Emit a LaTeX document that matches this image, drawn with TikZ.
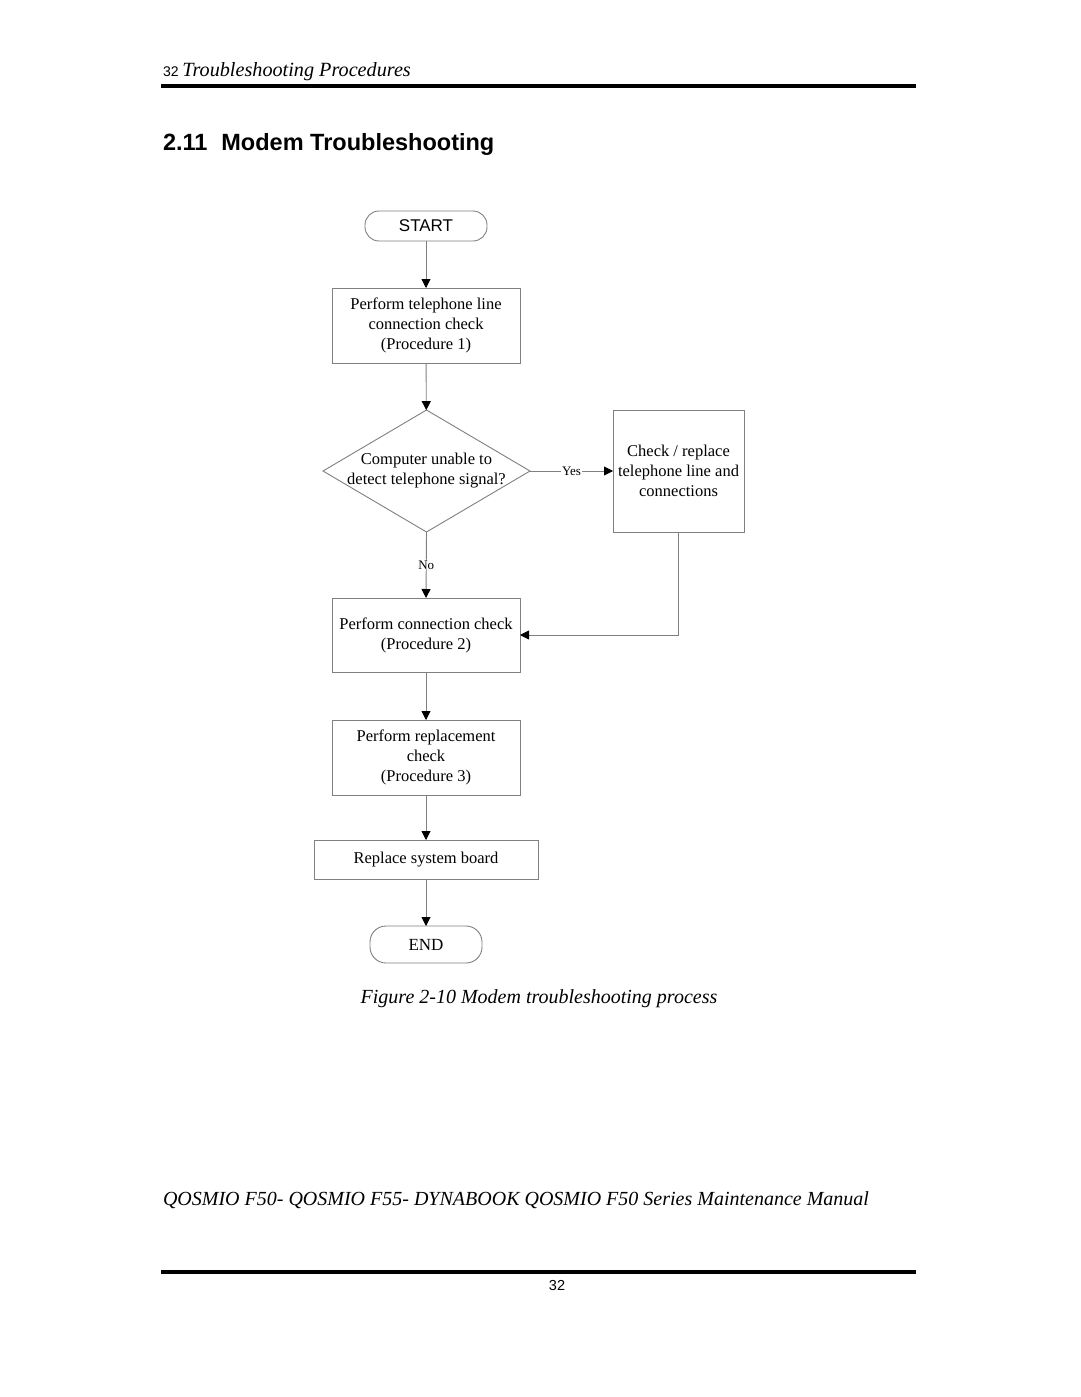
\documentclass[tikz,border=0pt]{standalone}
\usepackage{fontspec}
\setmainfont{Liberation Serif}
\setsansfont{Liberation Sans}
\usetikzlibrary{arrows.meta,shapes.geometric,positioning}
\definecolor{linegray}{RGB}{128,128,128}
\tikzset{
  every node/.style={inner sep=0pt, outer sep=0pt},
  flowtext/.style={font=\fontsize{16.5}{20}\selectfont, align=center},
  procbox/.style={flowtext, draw=linegray, line width=0.9pt, rectangle},
  termbox/.style={draw=linegray, line width=0.9pt, rectangle, rounded corners=14pt},
  flow/.style={draw=linegray, line width=0.9pt, -{Triangle[color=black,length=9pt,width=9pt]}},
  smalllabel/.style={font=\fontsize{13}{15}\selectfont, fill=white, inner xsep=1pt},
  rulebar/.style={line width=4pt, black}
}
\begin{document}
\begin{tikzpicture}[x=1pt,y=-1pt]
\useasboundingbox (0,0) rectangle (1080,1397);
\fill[white] (0,0) rectangle (1080,1397);

% header
\node[anchor=base west] (hdr) at (163,77) {\sffamily\fontsize{14}{16}\selectfont 32 \rmfamily\itshape\fontsize{20.2}{23}\selectfont Troubleshooting Procedures};
\draw[rulebar] (161,86) -- (916,86);

% title
\node[anchor=base west] (title) at (163,150) {\sffamily\bfseries\fontsize{23.5}{26}\selectfont 2.11\hspace{14pt}Modem Troubleshooting};

% flowchart
\node[termbox, minimum width=122pt, minimum height=30pt] (start) at (426,226) {};
\node[font=\sffamily\fontsize{17}{20}\selectfont] (starttxt) at (426,226) {START};

\node[procbox, minimum width=188pt, minimum height=75pt] (p1) at (426,325.5) {Perform telephone line\\connection check\\(Procedure 1)};

\node[draw=linegray, line width=0.9pt, diamond, minimum width=207pt, minimum height=122pt, inner sep=0pt, aspect=1.7] (dec) at (426.5,471) {};
\node[flowtext] (dectxt) at (426.5,471) {Computer unable to\\detect telephone signal?};

\node[procbox, minimum width=131pt, minimum height=122pt] (chk) at (678.5,471) {Check / replace\\telephone line and\\connections};

\node[procbox, minimum width=188pt, minimum height=74pt] (p2) at (426,635) {Perform connection check\\(Procedure 2)};

\node[procbox, minimum width=188pt, minimum height=75pt] (p3) at (426,757.5) {Perform replacement\\check\\(Procedure 3)};

\node[procbox, minimum width=224pt, minimum height=39pt] (rsb) at (426,859.5) {Replace system board};

\node[termbox, minimum width=112pt, minimum height=37pt, rounded corners=16pt] (endn) at (426,944.5) {};
\node[font=\fontsize{17}{20}\selectfont] (endtxt) at (426,944.5) {END};

% connectors
\draw[flow] (start) -- (p1);
\draw[flow] (p1) -- (dec);
\draw[flow] (dec.east) -- node[smalllabel, pos=0.5] (yes) {Yes} (chk.west);
\draw[flow] (dec.south) -- node[smalllabel, pos=0.5] (no) {No} (p2.north);
\coordinate (corner) at (chk.south |- p2.east);
\draw[flow] (chk.south) -- (corner) -- (p2.east);
\draw[flow] (p2) -- (p3);
\draw[flow] (p3) -- (rsb);
\draw[flow] (rsb) -- (endn);

% caption
\node (cap) at (539,999) {\itshape\fontsize{20}{23}\selectfont Figure 2-10 Modem troubleshooting process};

% footer
\node[anchor=west] (foot) at (163,1200) {\itshape\fontsize{20}{23}\selectfont QOSMIO F50- QOSMIO F55- DYNABOOK QOSMIO F50 Series Maintenance Manual};
\draw[rulebar] (161,1272) -- (916,1272);
\node (pg) at (557,1285) {\sffamily\fontsize{14.5}{16}\selectfont 32};
\end{tikzpicture}
\end{document}
